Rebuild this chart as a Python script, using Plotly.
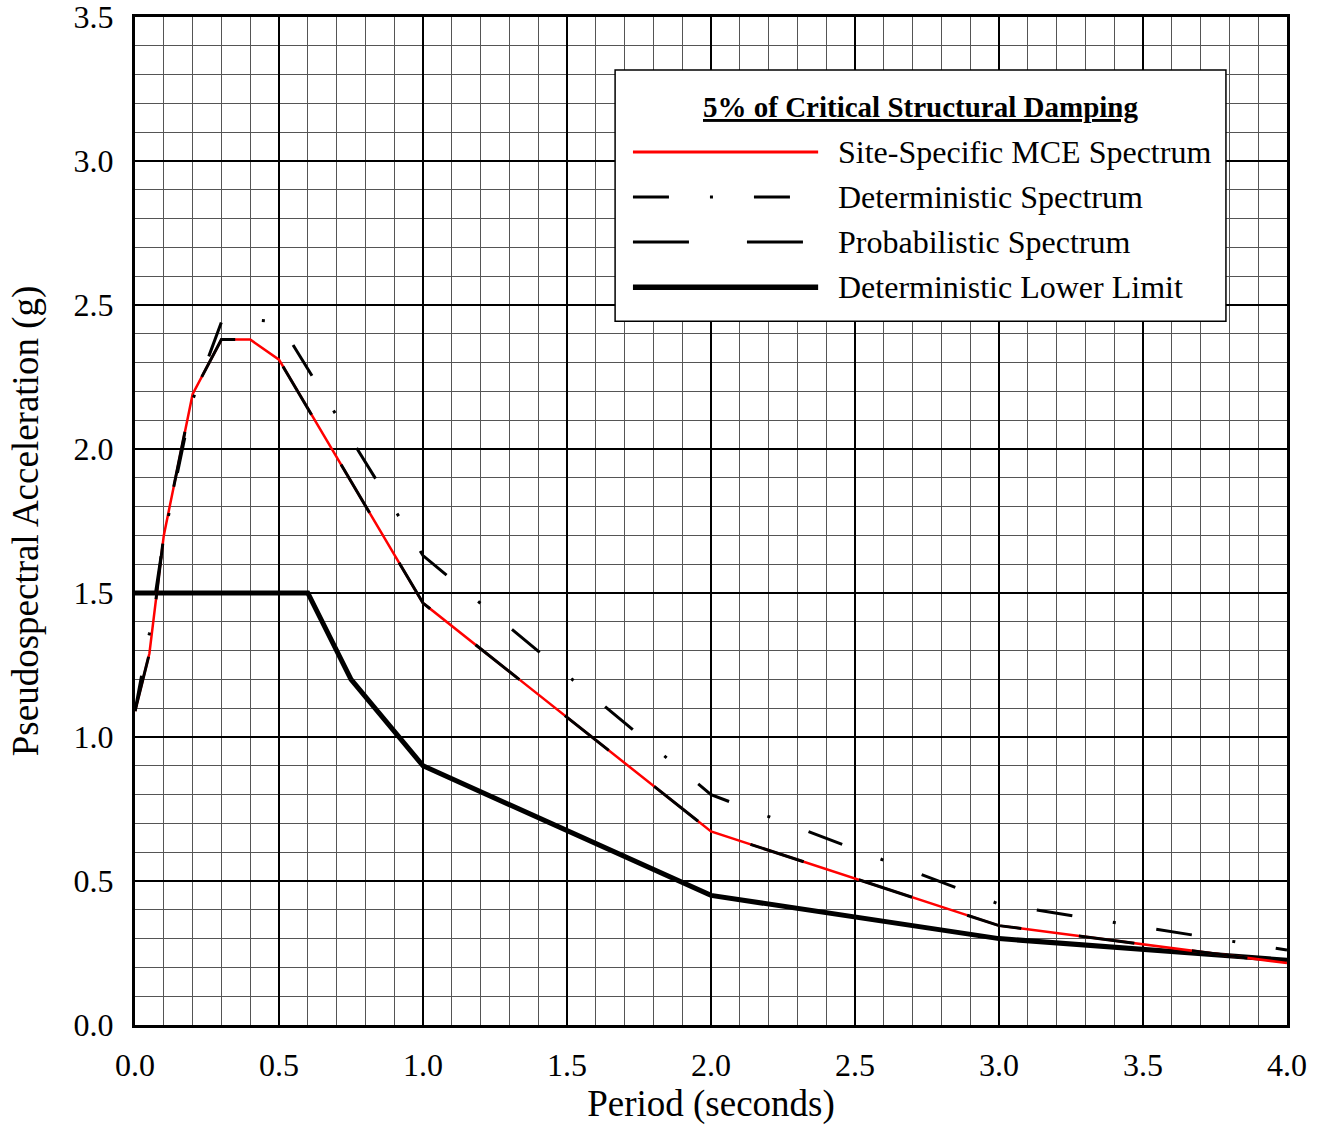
import plotly.graph_objects as go

# Periods (s) and spectral accelerations (g)
mce_T = [0.0, 0.05, 0.1, 0.2, 0.3, 0.4, 0.5, 1.0, 2.0, 3.0, 4.0]
mce_Sa = [1.09, 1.29, 1.70, 2.19, 2.38, 2.38, 2.31, 1.465, 0.672, 0.345, 0.215]

det_T = [0.0, 0.05, 0.1, 0.2, 0.3, 0.4, 0.5, 1.0, 2.0, 3.0, 4.0]
det_Sa = [1.09, 1.36, 1.69, 2.17, 2.44, 2.45, 2.44, 1.63, 0.80, 0.42, 0.26]

prob_T = [0.0, 0.05, 0.1, 0.2, 0.3, 0.4, 0.5, 1.0, 2.0, 3.0, 4.0]
prob_Sa = [1.09, 1.29, 1.70, 2.19, 2.38, 2.38, 2.31, 1.465, 0.672, 0.345, 0.215]

low_T = [0.0, 0.6, 0.75, 1.0, 2.0, 3.0, 4.0]
low_Sa = [1.5, 1.5, 1.2, 0.9, 0.45, 0.30, 0.225]

x_ticks = [0.0, 0.5, 1.0, 1.5, 2.0, 2.5, 3.0, 3.5, 4.0]
y_ticks = [0.0, 0.5, 1.0, 1.5, 2.0, 2.5, 3.0, 3.5]

legend_title = "5% of Critical Structural Damping"
names = ["Site-Specific MCE Spectrum", "Deterministic Spectrum",
         "Probabilistic Spectrum", "Deterministic Lower Limit"]

FONT = "Liberation Serif, Times New Roman, serif"
DET_DASH = "36px,41px,3px,41px"
PROB_DASH = "56px,58px"

fig = go.Figure()
fig.add_trace(go.Scatter(x=low_T, y=low_Sa, mode="lines",
                         line=dict(color="black", width=5), name=names[3]))
fig.add_trace(go.Scatter(x=mce_T, y=mce_Sa, mode="lines",
                         line=dict(color="#ff0000", width=2.5), name=names[0]))
fig.add_trace(go.Scatter(x=prob_T, y=prob_Sa, mode="lines",
                         line=dict(color="black", width=3, dash=PROB_DASH), name=names[2]))
fig.add_trace(go.Scatter(x=det_T, y=det_Sa, mode="lines",
                         line=dict(color="black", width=3, dash=DET_DASH), name=names[1]))

# Manual legend box (data coordinates)
bx0, bx1, by0, by1 = 1.667, 3.788, 2.444, 3.316
fig.add_shape(type="rect", x0=bx0, x1=bx1, y0=by0, y1=by1, xref="x", yref="y",
              fillcolor="white", line=dict(color="black", width=1.5), layer="above")
sx0, sx1 = 1.729, 2.372
rows_y = [3.031, 2.875, 2.719, 2.562]
styles = [dict(color="#ff0000", width=3),
          dict(color="black", width=3, dash=DET_DASH),
          dict(color="black", width=3, dash=PROB_DASH),
          dict(color="black", width=5.5)]
for yy, st, nm in zip(rows_y, styles, names):
    fig.add_shape(type="line", x0=sx0, x1=sx1, y0=yy, y1=yy, xref="x", yref="y",
                  line=st, layer="above")
    fig.add_annotation(x=2.434, y=yy, xref="x", yref="y", text=nm, showarrow=False,
                       xanchor="left", yanchor="middle",
                       font=dict(family=FONT, size=32, color="black"))
fig.add_annotation(x=(bx0 + bx1) / 2, y=3.1875, xref="x", yref="y",
                   text="<b><u>" + legend_title + "</u></b>", showarrow=False,
                   xanchor="center", yanchor="middle",
                   font=dict(family=FONT, size=29, color="black"))

axis_common = dict(
    showgrid=True, gridcolor="black", gridwidth=1.6,
    showline=True, linecolor="black", linewidth=3, mirror=True,
    zeroline=False, ticks="", tickfont=dict(family=FONT, size=32, color="black"),
    tickformat=".1f", automargin=False, ticklabeloverflow="allow",
)
fig.update_xaxes(range=[0, 4], tickvals=x_ticks, **axis_common,
                 minor=dict(dtick=0.1, showgrid=True, gridcolor="#555555", gridwidth=1),
                 title=dict(text="Period (seconds)", font=dict(family=FONT, size=37, color="black"),
                            standoff=2),
                 ticklabelstandoff=10)
fig.update_yaxes(range=[0, 3.5], tickvals=y_ticks, **axis_common,
                 minor=dict(dtick=0.1, showgrid=True, gridcolor="#555555", gridwidth=1),
                 title=dict(text="Pseudospectral Acceleration (g)",
                            font=dict(family=FONT, size=37, color="black"), standoff=24),
                 ticklabelstandoff=12)

fig.update_layout(
    width=1323, height=1126,
    margin=dict(l=135, r=36, t=17, b=101),
    paper_bgcolor="white", plot_bgcolor="white",
    showlegend=False,
    font=dict(family=FONT, color="black"),
)

# Remove the default page body margin so the figure fills the window exactly.
fig.write_html("out.html", config={"displayModeBar": False},
               post_script="document.body.style.margin='0';")
